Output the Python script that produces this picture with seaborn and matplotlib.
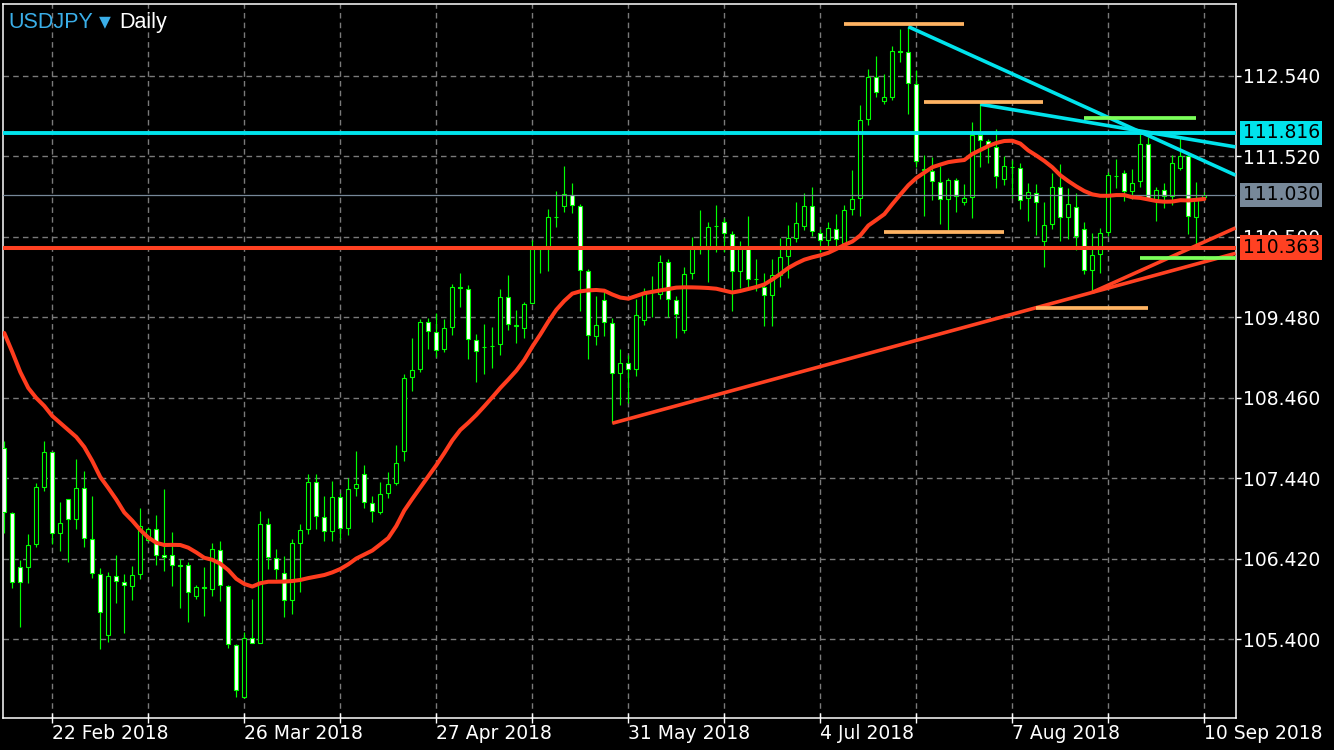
import numpy as np
import pandas as pd
import matplotlib
matplotlib.use("Agg")
import matplotlib.pyplot as plt
import matplotlib.transforms as mtransforms
import seaborn as sns

# ---------------- data ----------------
opens = [107.821, 106.998, 106.314, 106.321, 106.605, 107.327, 107.770, 106.752, 107.183, 106.922,
         107.314, 106.668, 106.225, 105.452, 106.200, 106.124, 106.073, 106.233, 106.656, 106.795,
         106.466, 106.466, 106.345, 106.339, 105.946, 106.058, 106.043, 106.529, 106.073, 105.326,
         104.667, 105.414, 105.351, 106.858, 106.428, 106.238, 105.896, 106.618, 106.795, 107.390,
         106.947, 106.770, 107.200, 106.808, 107.314, 107.491, 107.124, 107.018, 107.251, 107.378,
         107.790, 108.720, 108.821, 109.417, 109.290, 109.075, 109.354, 109.860, 109.835, 109.189,
         109.110, 109.120, 109.138, 109.733, 109.374, 109.341, 109.658, 110.354, 110.354, 110.750,
         110.886, 111.025, 110.886, 110.063, 109.239, 109.695, 109.404, 108.771, 108.898, 108.821,
         109.442, 109.820, 109.772, 110.177, 109.695, 109.316, 110.037, 110.350, 110.341, 110.635,
         110.683, 110.531, 110.063, 110.354, 109.970, 109.860, 109.759, 110.012, 110.253, 110.481,
         110.633, 110.886, 110.544, 110.455, 110.595, 110.417, 110.848, 110.987, 111.988, 112.520,
         112.216, 112.267, 112.850, 112.837, 112.431, 111.350, 111.330, 111.190, 110.975, 111.215,
         110.937, 111.000, 111.785, 111.709, 111.633, 111.228, 111.385, 111.367, 110.990, 111.051,
         110.443, 110.658, 111.127, 110.747, 110.873, 110.595, 110.076, 110.278, 110.557, 111.270,
         111.304, 111.076, 111.203, 111.671, 110.975, 111.089, 111.013, 111.367, 111.519, 110.747,
         111.000]
highs = [107.917, 107.018, 106.406, 106.735, 107.385, 107.913, 107.770, 107.145, 107.183, 107.685,
         107.533, 107.217, 106.301, 106.254, 106.469, 106.229, 106.330, 107.061, 106.820, 106.972,
         107.302, 106.757, 106.419, 106.381, 106.086, 106.317, 106.618, 106.643, 106.086, 105.338,
         105.490, 105.908, 107.027, 106.938, 106.545, 106.453, 106.668, 106.858, 107.491, 107.491,
         107.213, 107.403, 107.251, 107.441, 107.787, 107.606, 107.217, 107.390, 107.517, 107.863,
         108.758, 109.214, 109.455, 109.467, 109.531, 109.455, 109.898, 110.037, 109.885, 109.265,
         109.391, 109.353, 109.835, 110.012, 109.569, 109.678, 110.459, 110.360, 110.848, 111.080,
         111.397, 111.181, 110.911, 110.088, 109.754, 109.797, 109.467, 109.075, 108.999, 109.708,
         109.847, 109.999, 110.265, 110.215, 109.746, 110.113, 110.493, 110.835, 110.683, 110.899,
         110.734, 110.569, 110.443, 110.759, 110.215, 110.037, 110.215, 110.481, 110.645, 110.937,
         111.051, 111.127, 110.595, 110.683, 110.785, 110.899, 111.342, 112.169, 112.625, 112.790,
         112.558, 112.913, 113.132, 113.161, 112.609, 111.532, 111.507, 111.393, 111.241, 111.241,
         111.165, 111.950, 112.203, 111.735, 111.861, 111.519, 111.469, 111.431, 111.177, 111.165,
         110.937, 111.304, 111.418, 111.114, 111.051, 110.691, 110.544, 110.607, 111.317, 111.481,
         111.342, 111.355, 111.798, 111.760, 111.127, 111.177, 111.532, 111.747, 111.545, 111.199,
         111.070]
lows = [106.744, 106.055, 105.561, 106.111, 106.575, 107.280, 106.609, 106.524, 106.385, 106.799,
        106.575, 106.182, 105.275, 105.371, 105.865, 105.478, 105.899, 106.169, 106.643, 106.339,
        106.271, 106.081, 105.802, 105.625, 105.916, 105.701, 105.946, 105.891, 105.288, 104.667,
        104.655, 105.351, 105.351, 106.288, 106.162, 105.680, 105.718, 105.997, 106.732, 106.795,
        106.643, 106.643, 106.668, 106.719, 107.221, 107.061, 106.891, 106.989, 107.195, 107.356,
        107.664, 108.550, 108.791, 109.075, 108.973, 109.037, 109.252, 109.607, 108.948, 108.657,
        108.766, 108.842, 108.999, 109.316, 109.158, 109.214, 109.658, 110.045, 110.070, 110.620,
        110.810, 110.797, 109.564, 108.956, 109.126, 109.239, 108.138, 108.366, 108.391, 108.733,
        109.379, 109.480, 109.708, 109.480, 109.214, 109.277, 109.961, 110.278, 109.923, 110.303,
        110.303, 109.556, 109.855, 109.860, 109.809, 109.374, 109.374, 109.860, 109.974, 110.430,
        110.582, 110.506, 110.303, 110.341, 110.354, 110.354, 110.772, 110.763, 111.916, 112.274,
        112.178, 112.229, 112.710, 112.051, 111.388, 110.759, 110.962, 110.666, 110.590, 110.810,
        110.899, 110.734, 111.380, 111.431, 111.114, 111.152, 110.987, 110.848, 110.700, 110.519,
        110.114, 110.595, 110.443, 110.468, 110.329, 110.025, 109.797, 110.037, 110.506, 111.114,
        110.949, 110.975, 111.127, 110.975, 110.696, 110.860, 110.898, 111.342, 110.532, 110.364,
        110.990]
closes = [107.010, 106.131, 106.131, 106.592, 107.327, 107.770, 106.752, 106.871, 106.922, 107.314,
          106.681, 106.238, 105.744, 106.200, 106.136, 106.086, 106.212, 106.833, 106.795, 106.466,
          106.448, 106.339, 106.335, 105.997, 106.060, 106.052, 106.542, 106.086, 105.338, 104.756,
          105.414, 105.351, 106.858, 106.440, 106.288, 105.896, 106.618, 106.782, 107.390, 106.960,
          106.770, 107.200, 106.808, 107.302, 107.365, 107.137, 107.023, 107.238, 107.365, 107.631,
          108.708, 108.809, 109.417, 109.303, 109.062, 109.341, 109.860, 109.850, 109.202, 109.050,
          109.105, 109.115, 109.733, 109.391, 109.378, 109.645, 110.341, 110.350, 110.747, 110.745,
          111.038, 110.899, 110.076, 109.252, 109.379, 109.417, 108.771, 108.898, 108.821, 109.506,
          109.797, 109.830, 110.177, 109.708, 109.518, 110.025, 110.354, 110.345, 110.620, 110.630,
          110.544, 110.063, 110.354, 109.961, 109.965, 109.759, 110.012, 110.240, 110.481, 110.671,
          110.886, 110.569, 110.455, 110.607, 110.468, 110.835, 110.975, 111.975, 112.520, 112.330,
          112.267, 112.849, 112.845, 112.444, 111.456, 111.354, 111.203, 110.975, 111.215, 111.013,
          110.987, 111.785, 111.722, 111.659, 111.266, 111.393, 111.380, 110.962, 111.063, 110.937,
          110.645, 111.127, 110.747, 110.911, 110.506, 110.076, 110.265, 110.544, 111.279, 111.266,
          111.076, 111.177, 111.671, 110.987, 111.089, 111.013, 111.431, 111.519, 110.759, 110.997,
          111.030]
ma_values = [109.281, 109.041, 108.787, 108.585, 108.458, 108.357, 108.230, 108.141, 108.053, 107.964,
             107.837, 107.660, 107.457, 107.318, 107.172, 107.008, 106.904, 106.786, 106.691, 106.625,
             106.596, 106.598, 106.596, 106.562, 106.502, 106.434, 106.409, 106.360, 106.279, 106.168,
             106.103, 106.070, 106.112, 106.131, 106.131, 106.133, 106.140, 106.153, 106.177, 106.196,
             106.216, 106.249, 106.292, 106.352, 106.425, 106.476, 106.526, 106.604, 106.685, 106.837,
             107.033, 107.181, 107.324, 107.466, 107.607, 107.760, 107.921, 108.053, 108.144, 108.243,
             108.353, 108.467, 108.585, 108.692, 108.804, 108.939, 109.108, 109.262, 109.426, 109.575,
             109.688, 109.780, 109.809, 109.821, 109.826, 109.817, 109.769, 109.730, 109.716, 109.750,
             109.785, 109.803, 109.821, 109.839, 109.856, 109.860, 109.859, 109.856, 109.851, 109.842,
             109.818, 109.794, 109.813, 109.839, 109.864, 109.896, 109.959, 110.029, 110.105, 110.162,
             110.210, 110.240, 110.265, 110.297, 110.345, 110.396, 110.440, 110.517, 110.642, 110.713,
             110.786, 110.913, 111.034, 111.152, 111.244, 111.313, 111.381, 111.414, 111.445, 111.460,
             111.472, 111.548, 111.599, 111.649, 111.688, 111.713, 111.716, 111.680, 111.593, 111.529,
             111.460, 111.380, 111.279, 111.205, 111.138, 111.079, 111.037, 111.019, 111.019, 111.028,
             111.028, 111.000, 110.992, 110.972, 110.953, 110.944, 110.946, 110.963, 110.960, 110.968,
             110.979]

y_ticks = [105.400, 106.420, 107.440, 108.460, 109.480, 110.500, 111.520, 112.540]
x_tick_labels = ["22 Feb 2018", "26 Mar 2018", "27 Apr 2018", "31 May 2018",
                 "4 Jul 2018", "7 Aug 2018", "10 Sep 2018"]
x_tick_bars = [6, 30, 54, 78, 102, 126, 150]      # bar carrying each date label
x_minor_bars = [18, 42, 66, 90, 114, 138]

level_cyan = 111.816
level_red = 110.363
level_last = 111.030

# trend lines: bar index and price at both ends
trend_bar_start = [113, 122, 76, 136]
trend_price_start = [113.161, 112.178, 108.138, 109.797]
trend_bar_end = [153.9, 153.9, 153.9, 153.9]
trend_price_end = [111.280, 111.638, 110.290, 110.612]
trend_kind = ["cyan", "cyan", "red", "red"]

# short horizontal segments
seg_bar_start = [104.9, 115.0, 110.0, 129.0, 135.0, 142.0]
seg_bar_end = [119.9, 129.8, 125.0, 142.9, 148.9, 153.9]
seg_price = [113.195, 112.211, 110.564, 109.602, 112.008, 110.235]
seg_kind = ["orange", "orange", "orange", "orange", "green", "green"]

# ---------------- style ----------------
CYAN = "#00E3EC"
RED = "#FF4122"
MA_RED = "#FF3C1E"
ORANGE = "#FFB463"
GREEN = "#7BFF5A"
LIME = "#00FF00"
SLATE = "#778899"
TITLE_BLUE = "#3AAEE8"
colors = {"cyan": CYAN, "red": RED, "orange": ORANGE, "green": GREEN}

sns.set_theme(style="dark", rc={
    "figure.facecolor": "black", "axes.facecolor": "black",
    "axes.edgecolor": "white", "text.color": "white",
    "xtick.color": "white", "ytick.color": "white",
})
plt.rcParams["font.family"] = ["DejaVu Sans"]

n = min(len(opens), len(highs), len(lows), len(closes), len(ma_values))
df = pd.DataFrame({"bar": np.arange(n), "open": opens[:n], "high": highs[:n],
                   "low": lows[:n], "close": closes[:n], "ma": ma_values[:n]})
up = (df["close"] >= df["open"]).to_numpy()

W, H = 1334, 750
fig = plt.figure(figsize=(W / 100, H / 100), dpi=100)
ax = fig.add_axes([3 / W, 32 / H, 1233 / W, 714 / H])
ax.set_facecolor("black")

# candles
ax.vlines(df["bar"], df["low"], df["high"], color=LIME, lw=0.85, zorder=3)
body_bottom = np.minimum(df["open"], df["close"])
body_height = np.abs(df["close"] - df["open"])
ax.bar(df["bar"], body_height, bottom=body_bottom, width=0.48,
       color=np.where(up, "black", "white"), edgecolor=LIME, linewidth=0.8, zorder=4)

# moving average
sns.lineplot(data=df, x="bar", y="ma", color=MA_RED, lw=2.9, ax=ax,
             estimator=None, sort=True, zorder=6)

# horizontal levels
ax.axhline(level_last, color=SLATE, lw=0.9, zorder=5)
ax.axhline(level_cyan, color=CYAN, lw=2.8, zorder=7)
ax.axhline(level_red, color=RED, lw=2.9, zorder=7)

# trend lines
for xs, ps, xe, pe, k in zip(trend_bar_start, trend_price_start, trend_bar_end,
                             trend_price_end, trend_kind):
    ax.plot([xs, xe], [ps, pe], color=colors[k], lw=2.6, zorder=8,
            solid_capstyle="butt")

# segments
for xs, xe, p, k in zip(seg_bar_start, seg_bar_end, seg_price, seg_kind):
    ax.hlines(p, xs, xe, color=colors[k], lw=2.7, zorder=8)

# axes ranges
ax.set_xlim(-0.16, 153.96)
ax.set_ylim(104.405, 113.448)
ax.set_xlabel("")
ax.set_ylabel("")

ax.set_xticks(x_tick_bars)
ax.set_xticklabels(x_tick_labels)
ax.set_xticks(x_minor_bars, minor=True)
for lab in ax.get_xticklabels():
    lab.set_horizontalalignment("left")
ax.tick_params(axis="x", which="both", direction="inout", length=7, width=1,
               color="white", labelcolor="white", labelsize=13.5, pad=1,
               bottom=True)

ax.yaxis.tick_right()
ax.set_yticks(y_ticks)
ax.set_yticklabels([f"{v:.3f}" for v in y_ticks])
ax.tick_params(axis="y", direction="out", length=3.6, width=1, color="white",
               labelcolor="white", labelsize=13.5, pad=1.2, left=False, right=True)

ax.grid(True, which="both", axis="x", color="#7a7a7a", lw=1.0, ls=(0, (4, 3)))
ax.grid(True, which="major", axis="y", color="#7a7a7a", lw=1.0, ls=(0, (4, 3)))
ax.set_axisbelow(True)
for s in ax.spines.values():
    s.set_color("white")
    s.set_linewidth(1.1)
    s.set_visible(True)

# price boxes on the right axis
trans = mtransforms.blended_transform_factory(ax.transAxes, ax.transData)
for val, bg in [(level_cyan, CYAN), (level_last, SLATE), (level_red, RED)]:
    ax.text(1 + 6.7 / 1233, val, f"{val:.3f}", transform=trans, ha="left",
            va="center", fontsize=13.5, color="black", zorder=20, clip_on=False,
            bbox=dict(boxstyle="square,pad=0.14", fc=bg, ec="none"))

# title
fig.text(8 / W, 1 - 28 / H, "USDJPY", color=TITLE_BLUE, fontsize=15.5,
         family=["Liberation Sans", "DejaVu Sans"], va="baseline", ha="left")
fig.text(99 / W, 1 - 28 / H, "\u25be", color=TITLE_BLUE, fontsize=17,
         family=["DejaVu Sans"], va="baseline", ha="left")
fig.text(119 / W, 1 - 28 / H, "Daily", color="white", fontsize=15.5,
         family=["Liberation Sans", "DejaVu Sans"], va="baseline", ha="left")

fig.savefig("out.png", dpi=100, facecolor="black")
